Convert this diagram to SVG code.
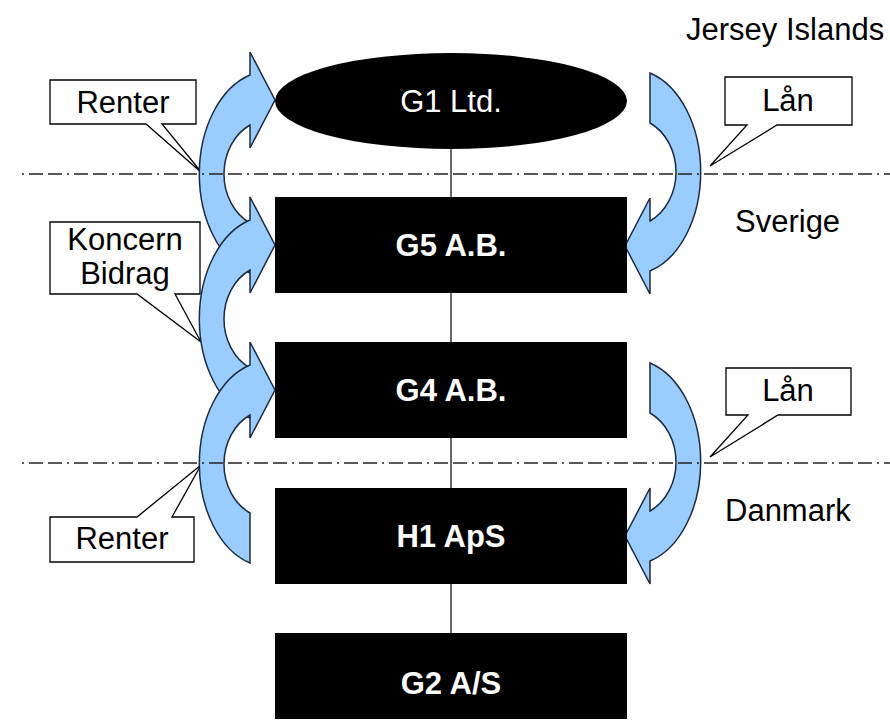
<svg xmlns="http://www.w3.org/2000/svg" xmlns:xlink="http://www.w3.org/1999/xlink" width="890" height="724" viewBox="0 0 890 724">
  <style>
    .lbl { font-family: "Liberation Sans", Arial, sans-serif; font-size: 31px; fill: #000; }
    .nodeTxt { font-family: "Liberation Sans", Arial, sans-serif; font-size: 31px; fill: #fff; text-anchor: middle; }
    .bold { font-weight: bold; }
    .node { fill: #000; }
    .link { stroke: #333; stroke-width: 1.5; fill: none; }
    .border { stroke: #222; stroke-width: 1.5; fill: none; stroke-dasharray: 2 5 14 5 14 5; }
    .callout { fill: #fff; stroke: #000; stroke-width: 1.3; stroke-linejoin: miter; }
    .flow { fill: #99ccff; stroke: #1c2a40; stroke-width: 1.5; stroke-linejoin: miter; }
    .mid { text-anchor: middle; }
  </style>
  <defs>
    <!-- curved flow arrow, pivot at (450,0); head at top pointing right -->
    <path id="curl" d="M -200 99 A 70 103 0 0 1 -200 -99 L -200 -122 L -175 -74 L -200 -26 L -200 -49 A 46 54.4 0 0 0 -200 49 Z"/>
  </defs>

  <rect width="890" height="724" fill="#fff"/>

  <!-- connectors: ownership chain -->
  <g id="connectors">
    <line class="link" x1="451" y1="149" x2="451" y2="197"/>
    <line class="link" x1="451" y1="293" x2="451" y2="342"/>
    <line class="link" x1="451" y1="438" x2="451" y2="488"/>
    <line class="link" x1="451" y1="584" x2="451" y2="633"/>
  </g>

  <!-- callout labels -->
  <g id="callouts">
    <path class="callout" d="M50,80 H196 V124 H162 L202,173 L146,124 H50 Z"/>
    <text class="lbl mid" x="123" y="113">Renter</text>
    <path class="callout" d="M725,77 H852 V125 H777 L710,166 L747,125 H725 Z"/>
    <text class="lbl mid" x="788" y="111">Lån</text>
    <path class="callout" d="M50,222 H200 V294 H175 L201,342 L137,294 H50 Z"/>
    <text class="lbl mid" x="125" y="250">Koncern</text>
    <text class="lbl mid" x="125" y="284">Bidrag</text>
    <path class="callout" d="M726,368 H851 V415 H778 L710,457 L748,415 H726 Z"/>
    <text class="lbl mid" x="788" y="401">Lån</text>
    <path class="callout" d="M50,517 H137 L201,465 L172,517 H194 V562 H50 Z"/>
    <text class="lbl mid" x="122" y="549">Renter</text>
  </g>

  <!-- money flows -->
  <g id="flows">
    <use xlink:href="#curl" class="flow" transform="translate(450,174)"/>
    <use xlink:href="#curl" class="flow" transform="translate(450,319)"/>
    <use xlink:href="#curl" class="flow" transform="translate(450,464)"/>
    <use xlink:href="#curl" class="flow" transform="translate(450,172) rotate(180)"/>
    <use xlink:href="#curl" class="flow" transform="translate(450,462) rotate(180)"/>
  </g>

  <!-- country borders -->
  <g id="borders">
    <line class="border" x1="22" y1="174" x2="890" y2="174"/>
    <line class="border" x1="22" y1="463" x2="890" y2="463"/>
  </g>

  <!-- jurisdictions -->
  <g id="regions">
    <text class="lbl" x="686" y="40">Jersey Islands</text>
    <text class="lbl" x="735" y="232">Sverige</text>
    <text class="lbl" x="725" y="521">Danmark</text>
  </g>

  <!-- companies -->
  <g id="g1">
    <ellipse class="node" cx="451" cy="101" rx="176" ry="48"/>
    <text class="nodeTxt" x="451" y="112">G1 Ltd.</text>
  </g>
  <g id="g5">
    <rect class="node" x="275" y="197" width="352" height="96"/>
    <text class="nodeTxt bold" x="451" y="256">G5 A.B.</text>
  </g>
  <g id="g4">
    <rect class="node" x="275" y="342" width="352" height="96"/>
    <text class="nodeTxt bold" x="451" y="401">G4 A.B.</text>
  </g>
  <g id="h1">
    <rect class="node" x="275" y="488" width="352" height="96"/>
    <text class="nodeTxt bold" x="451" y="547">H1 ApS</text>
  </g>
  <g id="g2">
    <rect class="node" x="275" y="633" width="352" height="86"/>
    <text class="nodeTxt bold" x="451" y="694">G2 A/S</text>
  </g>
</svg>
